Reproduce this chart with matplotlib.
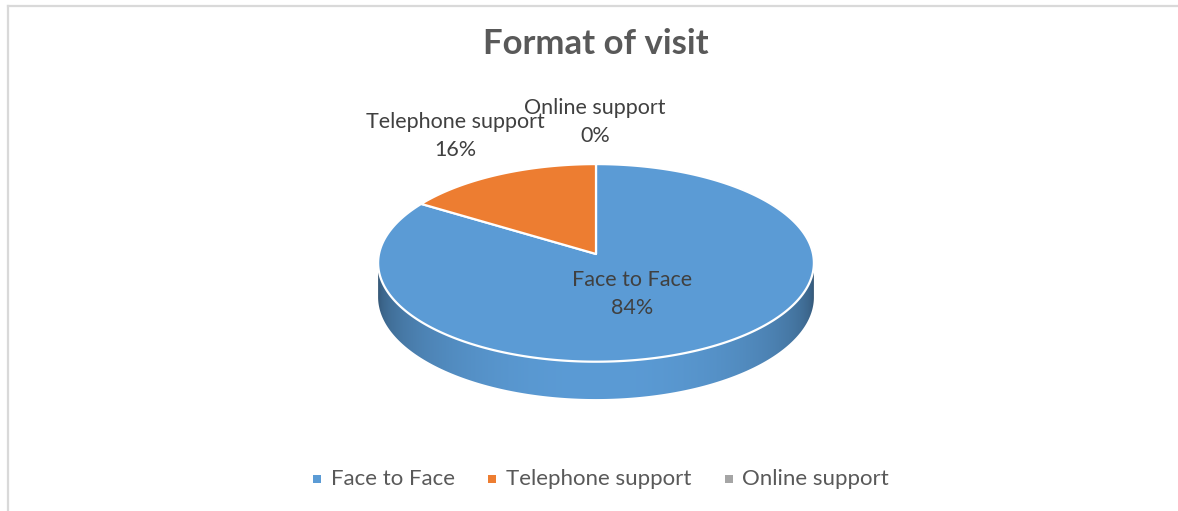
import numpy as np
import matplotlib
matplotlib.use("Agg")
import matplotlib.pyplot as plt
from matplotlib.patches import Polygon, Rectangle
from matplotlib.lines import Line2D

# Chart data
title = "Format of visit"
categories = ["Face to Face", "Telephone support", "Online support"]
shares = [84, 16, 0]  # percent

colors = ["#5B9BD5", "#ED7D31", "#A5A5A5"]
text_dark = "#404040"
text_mid = "#595959"

W, H = 1178, 511
fig = plt.figure(figsize=(W / 100, H / 100), dpi=100)
ax = fig.add_axes([0, 0, 1, 1])
ax.set_xlim(0, W)
ax.set_ylim(H, 0)
ax.axis("off")

# Chart-area frame
ax.add_line(Line2D([7.5, 7.5], [6.5, H], color="#D9D9D9", lw=1.6))
ax.add_line(Line2D([7.5, W], [6.5, 6.5], color="#D9D9D9", lw=1.6))

# Tilted-disc projection (perspective view of a flat circle)
cx, cy = 596.0, 254.0
A, B = 217.0, 98.0
k = 0.09
depth = 34.0


def proj(theta_deg, r=1.0, dz=0.0):
    t = np.radians(theta_deg)
    u = r * np.sin(t)
    v = -r * np.cos(t)
    s = 1.0 / (1.0 - k * v)
    return cx + A * u * s, cy + B * v * s + dz * s


# Side wall (front half of the disc edge)
th = np.linspace(0, 360, 3601)
xs, ys = proj(th)
i_left = int(np.argmin(xs))
i_right = int(np.argmax(xs))
th_r, th_l = th[i_right], th[i_left]
front = np.linspace(th_r, th_l, 600)
fx, fy = proj(front)
bx, by = proj(front[::-1], dz=depth)
side_pts = np.column_stack([np.r_[fx, bx], np.r_[fy, by]])
side = Polygon(side_pts, closed=True, facecolor="none", edgecolor="none")
ax.add_patch(side)

# Horizontal shading on the wall: light in the middle, darker towards the ends
gx = np.linspace(fx.min(), fx.max(), 600)
tt = (gx - (fx.max() + fx.min()) / 2) / ((fx.max() - fx.min()) / 2)
fac = 0.52 + 0.48 * np.sqrt(np.clip(1 - tt ** 2, 0, 1)) ** 0.8
base = np.array([91, 155, 213]) / 255.0
grad = (base[None, :] * fac[:, None])[None, :, :]
img = ax.imshow(grad, extent=[fx.min(), fx.max(), by.max() + 2, fy.min() - 2],
                aspect="auto", interpolation="bilinear", zorder=1)
img.set_clip_path(side)

# Top surface wedges, drawn clockwise from 12 o'clock
total = float(sum(shares))
start = 0.0
for cat, val, col in zip(categories, shares, colors):
    span = 360.0 * val / total
    if span > 0:
        arc = np.linspace(start, start + span, max(int(span * 4), 2))
        px, py = proj(arc)
        pts = np.column_stack([np.r_[cx, px], np.r_[cy, py]])
        ax.add_patch(Polygon(pts, closed=True, facecolor=col, edgecolor="white",
                             lw=1.6, joinstyle="round", zorder=2))
    start += span

lab_font = "Lato"
# Data labels
lab_kw = dict(ha="center", va="center", fontsize=15.5, color=text_dark,
              family=lab_font, linespacing=1.5, zorder=3)
ax.text(632, 294, f"{categories[0]}\n{shares[0]}%", **lab_kw)
ax.text(455, 135.5, f"{categories[1]}\n{shares[1]}%", **lab_kw)
ax.text(595, 121.5, f"{categories[2]}\n{shares[2]}%", **lab_kw)

# Title
ax.text(596, 44, title, ha="center", va="center", fontsize=25, fontweight="bold",
        color=text_mid, family=lab_font)

# Legend
leg_x = [317, 491.5, 728.5]
leg_y = 479
for x0, cat, col in zip(leg_x, categories, colors):
    ax.add_patch(Rectangle((x0 - 4, leg_y - 4), 8, 8, facecolor=col, edgecolor="none"))
    ax.text(x0 + 14, leg_y, cat, ha="left", va="center", fontsize=16,
            color=text_mid, family=lab_font)

fig.savefig("out.png", dpi=100)
